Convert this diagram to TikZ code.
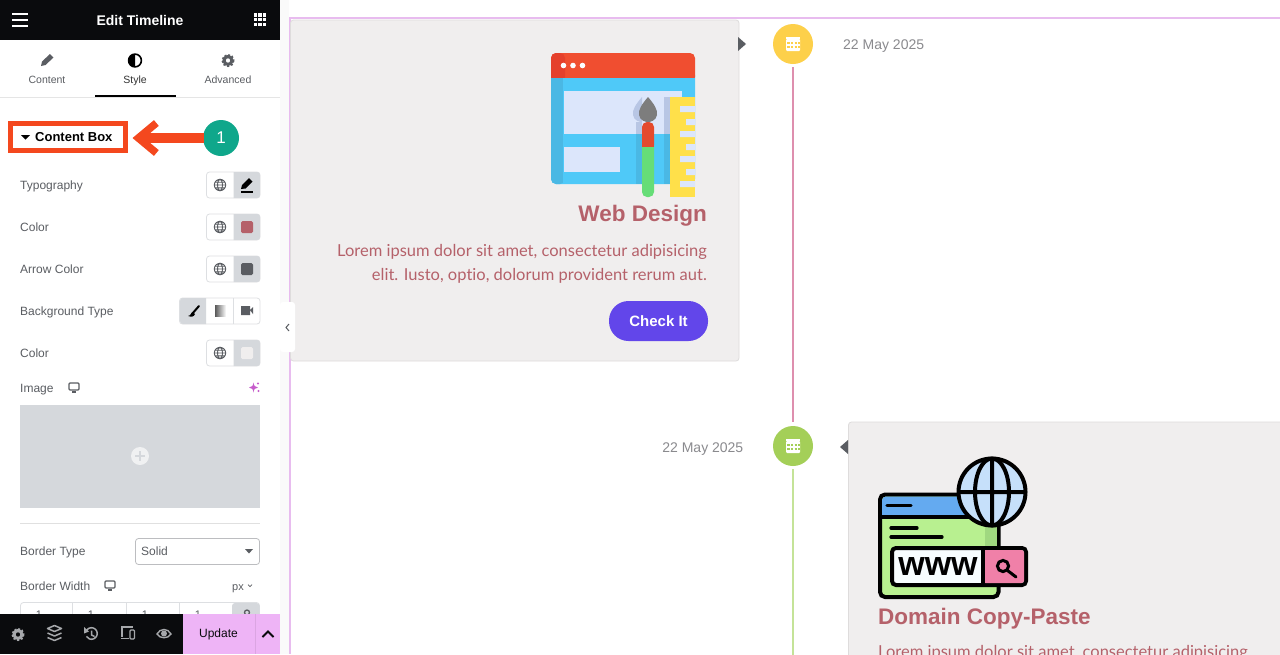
\documentclass[tikz,border=0pt]{standalone}
\usepackage{fontspec}
\setmainfont{Liberation Sans}
\newfontfamily\bodyfont[Ligatures=NoCommon]{Lato}
\usetikzlibrary{arrows.meta}
\definecolor{framepink}{HTML}{E8BCEF}
\definecolor{updatepink}{HTML}{EEB4F6}
\definecolor{cardgray}{HTML}{F0EEEE}
\definecolor{cardedge}{HTML}{DEDCDC}
\definecolor{rosetext}{HTML}{B5616A}
\definecolor{labelgray}{HTML}{5A5D62}
\definecolor{dategray}{HTML}{8A8A8E}
\definecolor{btngray}{HTML}{D5D8DC}
\definecolor{btnedge}{HTML}{DDDFE2}
\definecolor{alertred}{HTML}{F4481E}
\definecolor{tealdot}{HTML}{0FA78B}
\definecolor{barblack}{HTML}{0A0B0D}
\definecolor{iconbar}{HTML}{A6A8AB}
\definecolor{dotyellow}{HTML}{FDD04A}
\definecolor{dotgreen}{HTML}{A4CF58}
\definecolor{railrose}{HTML}{DE8FAE}
\definecolor{railgreen}{HTML}{C4E398}
\definecolor{checkblue}{HTML}{6246EA}
\definecolor{webred}{HTML}{F04E30}
\definecolor{webreddark}{HTML}{E5402C}
\definecolor{webblue}{HTML}{4FC9F8}
\definecolor{webbluedark}{HTML}{4AB8E4}
\definecolor{webpane}{HTML}{DCE6FB}
\definecolor{webshade}{HTML}{B8C6E4}
\definecolor{rulerfill}{HTML}{FFE04A}
\definecolor{handlegreen}{HTML}{66DD77}
\definecolor{brushgray}{HTML}{7D7D7D}
\definecolor{domblue}{HTML}{64AAF0}
\definecolor{domgreen}{HTML}{B8F090}
\definecolor{domshade}{HTML}{A0D880}
\definecolor{domglobe}{HTML}{C6E0FA}
\definecolor{dompink}{HTML}{F080A8}
\definecolor{sparkle}{HTML}{C65CCB}
\tikzset{
	rowlabel/.style={anchor=west,inner sep=0pt,text height=8.6pt,text depth=0pt,text=labelgray,font=\fontsize{12}{14}\selectfont},
	tablabel/.style={inner sep=0pt,text height=7.5pt,text depth=0pt,text=labelgray,font=\fontsize{10.5}{12}\selectfont},
	datelabel/.style={inner sep=0pt,text height=10pt,text depth=0pt,text=dategray,font=\fontsize{14}{16}\selectfont},
	cardtitle/.style={inner sep=0pt,text height=16pt,text depth=0pt,text=rosetext,font=\fontsize{22.5}{27}\selectfont\bfseries},
	cardtext/.style={inner sep=0pt,text height=11pt,text depth=0pt,text=rosetext,font=\bodyfont\fontsize{16.5}{18}\selectfont},
	datedot/.style={circle,inner sep=0pt,minimum size=40pt},
	rail/.style={line width=2pt,shorten <=3pt,shorten >=4pt},
	card/.style={draw=cardedge,fill=cardgray,rounded corners=3pt,line width=.8pt},
	blackline/.style={line width=3.5pt,draw=black,line cap=round},
	cellnum/.style={inner sep=0pt,text=labelgray,font=\fontsize{11}{13}\selectfont},
}
\newcommand{\gearmark}[3]{\begin{scope}[shift={(#1,#2)}]
	\draw[#3,line width=2pt,dash pattern=on 2pt off 1.7pt] (0,0) circle(5.6);
	\fill[#3,even odd rule] (0,0) circle(5.6) (0,0) circle(2.3);
	\end{scope}}
\newcommand{\globemark}[2]{\begin{scope}[shift={(#1,#2)},draw=labelgray,line width=.9pt]
	\draw[labelgray] (0,0) circle(5.7) (0,0) ellipse(2.6 and 5.7) (-5.7,0) -- (5.7,0) (-5,-2.8) -- (5,-2.8) (-5,2.8) -- (5,2.8);
	\end{scope}}
\newcommand{\deskmark}[2]{\begin{scope}[shift={(#1,#2)}]
	\draw[labelgray,line width=1.1pt,rounded corners=1pt] (-5,-4) rectangle (5,3);
	\draw[labelgray,line width=1.1pt] (-2,5) -- (2,5);
	\end{scope}}
% one row with the globe switch
\newcommand{\switchrow}[1]{\begin{scope}[shift={(0,#1)}]
	\draw[btnedge,fill=white,rounded corners=3pt,line width=.8pt] (206.5,-13) rectangle (260,13);
	\fill[btngray] (233.5,-13) [rounded corners=3pt] -- (260,-13) -- (260,13) [sharp corners] -- (233.5,13) -- cycle;
	\globemark{220}{0}
	\end{scope}}
\begin{document}
\begin{tikzpicture}[x=1pt,y=-1pt]
	\useasboundingbox (0,0) rectangle (1280,654);
	\clip (0,0) rectangle (1280,654);
	\fill[white] (0,0) rectangle (1280,654);
	\fill[black!2] (280,0) rectangle (289,654);
	% canvas frame
	\fill[framepink] (289,17) rectangle (1280,18.6);
	\fill[framepink] (289,17) rectangle (290.6,654);

	% first card
	\draw[card] (290.5,20) rectangle (739,361);
	\fill[labelgray] (738,37) -- (746,44) -- (738,51) -- cycle;
	\node[datedot,fill=dotyellow] (yellowdot) at (793,44) {};
	\node[datedot,fill=dotgreen] (greendot) at (793,446) {};
	\coordinate (railend) at (793,660);
	\draw[rail,draw=railrose] (yellowdot.south) -- (greendot.north);
	\draw[rail,draw=railgreen,shorten >=0pt] (greendot.south) -- (railend);
	\node[datelabel,anchor=west] (dateone) at (843,44) {22 May 2025};
	\node[datelabel,anchor=east] (datetwo) at (743.5,447) {22 May 2025};

	% calendar marks
	\draw[white,line width=2pt] (786,37.5) -- (800,37.5);
	\fill[white,rounded corners=1pt] (786,39) rectangle (800,51);
	\draw[dotyellow,line width=1.8pt,dash pattern=on 2.2pt off 1.4pt] (787.4,43) -- (800,43) (787.4,47) -- (800,47);
	\draw[white,line width=2pt] (786,439.5) -- (800,439.5);
	\fill[white,rounded corners=1pt] (786,441) rectangle (800,453);
	\draw[dotgreen,line width=1.8pt,dash pattern=on 2.2pt off 1.4pt] (787.4,445) -- (800,445) (787.4,449) -- (800,449);

	% web window
	\fill[webblue,rounded corners=5pt] (551,70) rectangle (695,184);
	\fill[webbluedark,rounded corners=5pt] (551,70) rectangle (565,184);
	\fill[webblue] (563,70) rectangle (570,184);
	\fill[webred,rounded corners=5pt] (551,53) rectangle (695,82);
	\fill[webreddark,rounded corners=5pt] (551,53) rectangle (565,82);
	\fill[webblue] (551,78) rectangle (695,90);
	\fill[webbluedark] (551,78) rectangle (563,90);
	\fill[webpane] (564,91) rectangle (682,134);
	\fill[webpane] (564,147) rectangle (620,172);
	\fill[white!90!webpane] (563.5,65.5) circle(2.8) (573,65.5) circle(2.8) (582.5,65.5) circle(2.8);
	\fill[webshade] (664,97) rectangle (670,134);
	\fill[webbluedark] (664,134) rectangle (670,184);
	\fill[rulerfill] (670,97) rectangle (695,197);
	\fill[webpane] (680,106) rectangle (695,112) (686,119) rectangle (695,125) (680,131) rectangle (695,137) (686,144) rectangle (695,150) (680,156) rectangle (695,162) (686,169) rectangle (695,175) (680,181) rectangle (695,187);
	\fill[webshade] (642,97) .. controls (636,104) and (632,110) .. (633,115) .. controls (634,121) and (640,122) .. (642,122) -- cycle;
	\fill[webbluedark] (636,134) rectangle (642,184);
	\fill[webshade] (636,122) rectangle (642,134);
	\fill[brushgray] (648,97) .. controls (642,104) and (638,110) .. (639,115) .. controls (640,121) and (646,122) .. (648,122) .. controls (650,122) and (656,121) .. (657,115) .. controls (658,110) and (654,104) .. (648,97) -- cycle;
	\fill[handlegreen,rounded corners=5pt] (642,140) rectangle (654,197);
	\fill[webred!95!black,rounded corners=5pt] (642,122) rectangle (654,150);
	\fill[webred!95!black] (642,142) rectangle (654,147);
	\fill[handlegreen] (642,147) rectangle (654,152);

	\node[cardtitle,anchor=east] (webtitle) at (707,213) {Web Design};
	\node[cardtext,anchor=east] (webtextone) at (707,251) {Lorem ipsum dolor sit amet, consectetur adipisicing};
	\node[cardtext,anchor=east] (webtexttwo) at (707,275) {elit. Iusto, optio, dolorum provident rerum aut.};
	\node[fill=checkblue,rounded corners=19.5pt,minimum width=99pt,minimum height=40pt,inner sep=0pt,text=white,font=\fontsize{15}{18}\selectfont\bfseries] (checkit) at (658.5,321) {Check It};

	% second card
	\draw[card] (848.5,422) rectangle (1290,670);
	\fill[labelgray] (848,440) -- (840,447) -- (848,454) -- cycle;

	% domain window
	\draw[black,line width=4pt,fill=domgreen,rounded corners=5pt] (880,494.5) rectangle (998.5,597);
	\fill[domblue,rounded corners=4pt] (882,496.5) rectangle (996.5,516);
	\fill[domblue] (882,508) rectangle (996.5,516);
	\fill[domshade] (985,520) rectangle (996.5,547);
	\draw[blackline,line width=4pt] (880,517) -- (998.5,517);
	\draw[blackline,line width=3.2pt] (887,505.5) -- (911,505.5);
	\draw[blackline,line width=3.2pt] (891,528) -- (917,528);
	\draw[blackline,line width=3.2pt] (891,537) -- (942,537);
	\draw[black,line width=4pt,fill=domglobe] (992,492) circle(33.5);
	\draw[black,line width=4pt] (992,492) ellipse(17 and 33.5) (992,458.5) -- (992,525.5) (958.5,492) -- (1025.5,492);
	\draw[black,line width=4pt,fill=cyan!3!white,rounded corners=4pt] (892,548) rectangle (1026,585);
	\fill[dompink,rounded corners=2.5pt] (983,550) rectangle (1024,583);
	\draw[black,line width=4pt] (983,548) -- (983,585);
	\node[inner sep=0pt,text height=18pt,text depth=0pt,font=\fontsize{34}{34}\selectfont\bfseries] (wwwtext) at (938,566) {www};
	\draw[black,line width=3pt] (1003,566) circle(5.6);
	\draw[blackline,line width=3pt] (1007.5,570.5) -- (1016,577);

	\node[cardtitle,anchor=west] (domaintitle) at (878,616) {Domain Copy-Paste};
	\node[cardtext,anchor=west] (domaintext) at (878,652) {Lorem ipsum dolor sit amet, consectetur adipisicing};

	% left panel
	\fill[white] (0,0) rectangle (280,654);
	\draw[black!10,line width=.8pt] (0,97.5) -- (280,97.5);
	\fill[barblack] (0,0) rectangle (280,40);
	\draw[white,line width=2pt] (12,14) -- (28,14) (12,20) -- (28,20) (12,26) -- (28,26);
	\node[inner sep=0pt,text height=10pt,text depth=0pt,text=white,font=\fontsize{14}{17}\selectfont\bfseries] (paneltitle) at (140,20) {Edit Timeline};
	\draw[white,line width=3.4pt,dash pattern=on 3.4pt off 1pt] (254,15) -- (267,15) (254,19.6) -- (267,19.6) (254,24.2) -- (267,24.2);

	% tabs
	\fill[labelgray] (41,66) -- (42,61.5) -- (50,54) -- (53.5,57.5) -- (45.5,65) -- cycle;
	\node[tablabel] (tabcontent) at (47,80) {Content};
	\draw[black,line width=1.6pt] (135,60.5) circle(6.4);
	\fill[black] (135,54) arc(-90:-270:6.5) -- cycle;
	\node[tablabel,text=black!80] (tabstyle) at (135,80) {Style};
	\gearmark{228}{60.5}{labelgray}
	\node[tablabel] (tabadvanced) at (228,80) {Advanced};
	\fill[black] (95,95) rectangle (176,97.4);

	% content box and its call-out
	\node[draw=alertred,line width=5pt,inner sep=0pt,minimum width=115pt,minimum height=27pt] (contentbox) at (68,137) {};
	\fill[black] (21,135) -- (30,135) -- (25.5,139.5) -- cycle;
	\node[inner sep=0pt,anchor=west,text height=9.3pt,text depth=0pt,font=\fontsize{13}{16}\selectfont\bfseries] (contentlabel) at (35,137) {Content Box};
	\node[circle,fill=tealdot,inner sep=0pt,minimum size=36pt,text=white,font=\fontsize{17}{20}\selectfont] (stepone) at (221,138) {1};
	\draw[alertred,line width=10pt,shorten <=-1pt,shorten >=4.5pt,-{Straight Barb[length=18pt,width=30pt,line width=7.5pt]}] (stepone.west) -- (contentbox.east |- stepone.west);

	% rows
	\node[rowlabel] (typolabel) at (20,185) {Typography};
	\switchrow{185}
	\fill[black] (241,189) -- (242,185) -- (249,178) -- (252.5,181.5) -- (245.5,188.5) -- cycle;
	\fill[black] (241,191) rectangle (253,192.5);
	\node[rowlabel] (colorlabel) at (20,227) {Color};
	\switchrow{227}
	\fill[rosetext,rounded corners=1.5pt] (241,221) rectangle (253,233);
	\node[rowlabel] (arrowlabel) at (20,269) {Arrow Color};
	\switchrow{269}
	\fill[labelgray,rounded corners=1.5pt] (241,263) rectangle (253,275);
	\node[rowlabel] (bglabel) at (20,311) {Background Type};
	\draw[btnedge,fill=white,rounded corners=3pt,line width=.8pt] (179.5,298) rectangle (260,324);
	\fill[btngray] (206,298) -- (183,298) [rounded corners=3pt] -- (180,298) -- (180,324) [sharp corners] -- (206,324) -- cycle;
	\draw[btnedge,line width=.8pt] (233.5,298) -- (233.5,324);
	\draw[black,line width=2pt,line cap=round] (199,306) -- (192,314);
	\fill[black] (188,316) .. controls (191,316) and (191,312) .. (193,312) -- (195,314) .. controls (194,317) and (191,317) .. (188,316) -- cycle;
	\shade[left color=black!65,right color=white] (215,305) rectangle (226,316);
	\fill[labelgray] (241,306) rectangle (250,315) (250,310) -- (253,307) -- (253,314) -- cycle;
	\node[rowlabel] (bgcolorlabel) at (20,353) {Color};
	\switchrow{353}
	\fill[cardgray,rounded corners=1.5pt] (241,347) rectangle (253,359);

	% image
	\node[rowlabel] (imagelabel) at (20,388) {Image};
	\deskmark{74}{387}
	\fill[sparkle] (253.5,382.5) .. controls (254,386) and (255,387) .. (258,387.5) .. controls (255,388) and (254,389) .. (253.5,392.5) .. controls (253,389) and (252,388) .. (249,387.5) .. controls (252,387) and (253,386) .. (253.5,382.5) -- cycle;
	\fill[sparkle] (258,383.5) circle(1.1) (258.5,391) circle(1.1);
	\fill[btngray] (20,405) rectangle (260,508);
	\fill[white,opacity=.65] (140,456) circle(9);
	\draw[btngray,line width=1.3pt] (135,456) -- (145,456) (140,451) -- (140,461);
	\draw[black!12,line width=.8pt] (20,523.5) -- (260,523.5);

	% border
	\node[rowlabel] (borderlabel) at (20,551) {Border Type};
	\draw[btnedge!85!black,fill=white,rounded corners=3pt,line width=.8pt] (135.5,538.5) rectangle (259.5,564.5);
	\node[rowlabel] (solidlabel) at (141,551) {Solid};
	\fill[labelgray] (245,549) -- (253,549) -- (249,553.5) -- cycle;
	\node[rowlabel] (widthlabel) at (20,586) {Border Width};
	\deskmark{110}{585}
	\node[rowlabel,font=\fontsize{11}{13}\selectfont] (pxlabel) at (232,586) {px};
	\draw[labelgray,line width=.7pt] (248,584.5) -- (250,586.5) -- (252,584.5);
	\draw[btnedge,fill=white,rounded corners=3pt,line width=.8pt] (20.5,602.5) rectangle (259.5,630);
	\fill[btngray,rounded corners=3pt] (232,603) rectangle (259.5,630);
	\draw[btnedge,line width=.8pt] (72.5,603) -- (72.5,630) (126.5,603) -- (126.5,630) (179.5,603) -- (179.5,630);
	\node[cellnum] (cellone) at (39,615) {1};
	\node[cellnum] (celltwo) at (91,615) {1};
	\node[cellnum] (cellthree) at (145,615) {1};
	\node[cellnum] (cellfour) at (198,615) {1};
	\draw[labelgray,line width=1.3pt] (247,612.5) circle(2.5);

	% collapse tab
	\fill[white,rounded corners=3pt] (280,302) rectangle (295,352);
	\draw[labelgray,line width=1pt] (289,324) -- (286,327.5) -- (289,331);

	% bottom bar
	\fill[barblack] (0,614) rectangle (183,654);
	\fill[updatepink] (183,614) rectangle (280,654);
	\draw[updatepink!92!black,line width=.6pt] (255,614) -- (255,654);
	\gearmark{18}{634.5}{iconbar}
	\draw[iconbar,line width=1.5pt,line join=round] (47.5,628.5) -- (54.5,625.5) -- (61.5,628.5) -- (54.5,631.5) -- cycle;
	\draw[iconbar,line width=1.5pt,line join=round] (47.5,633) -- (54.5,636) -- (61.5,633) (47.5,637.5) -- (54.5,640.5) -- (61.5,637.5);
	\draw[iconbar,line width=1.5pt] (86,631.5) arc(-160:150:5.8) (91.5,630.5) -- (91.5,635) -- (94.5,636.5);
	\fill[iconbar] (84,627) -- (89,631.5) -- (84,633.5) -- cycle;
	\draw[iconbar,line width=1.4pt] (122,637) -- (122,627) -- (133,627) (120.5,638.5) -- (129,638.5);
	\draw[iconbar,line width=1.3pt,rounded corners=1pt] (130,630) rectangle (134.5,639);
	\draw[iconbar,line width=1.4pt] (157,634) .. controls (160,628) and (168,628) .. (171,634) .. controls (168,639) and (160,639) .. (157,634) -- cycle;
	\fill[iconbar] (164,633.5) circle(3);
	\node[inner sep=0pt,text height=8.6pt,text depth=0pt,text=barblack,font=\fontsize{12}{14}\selectfont] (updatebtn) at (218.5,633.5) {Update};
	\draw[barblack,line width=1.8pt] (262.5,637) -- (268,631.5) -- (273.5,637);
\end{tikzpicture}
\end{document}
